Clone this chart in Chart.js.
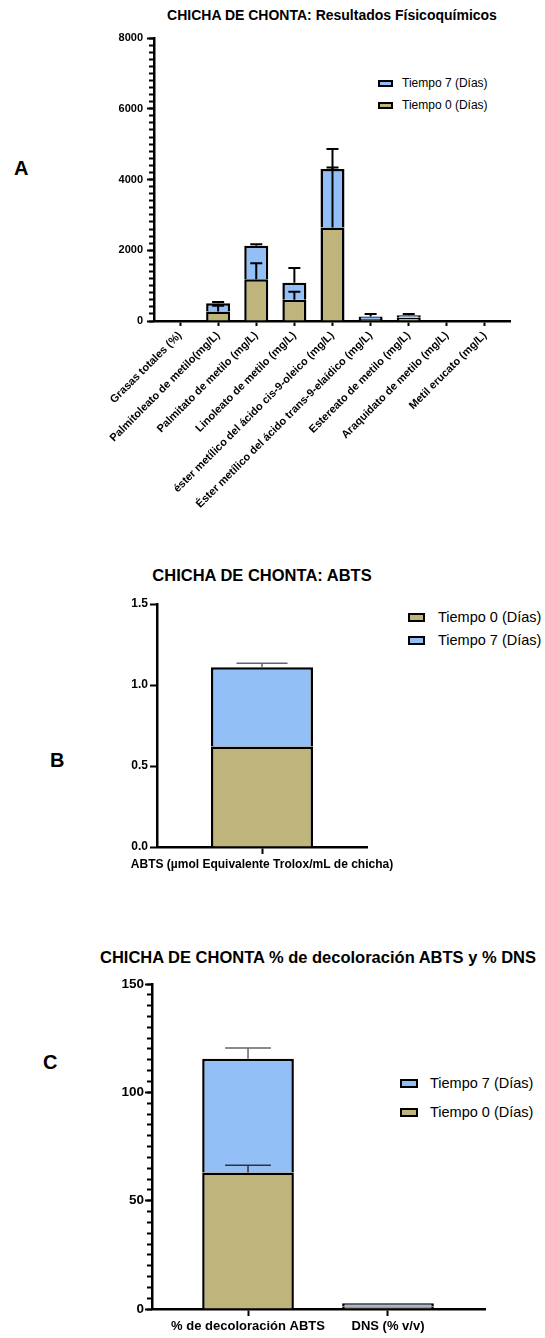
<!DOCTYPE html>
<html>
<head>
<meta charset="utf-8">
<script src="https://cdn.jsdelivr.net/npm/chart.js@4.4.0/dist/chart.umd.min.js"></script>
<style>
  body { margin: 0; background: #fff; width: 545px; height: 1338px; position: relative; overflow: hidden;
         font-family: "Liberation Sans", Arial, sans-serif; color: #000; }
  canvas { position: absolute; left: 0; }
  .t { position: absolute; white-space: nowrap; }
  .letter { font-weight: bold; font-size: 20px; line-height: 20px; }
  .title { font-weight: bold; transform: translateX(-50%); }
  .leg { position: absolute; display: flex; align-items: center; white-space: nowrap; }
  .leg span.box { display: inline-block; border: 2px solid #000; box-sizing: border-box; }
</style>
</head>
<body>

<div class="t letter" style="left:14px;top:158px">A</div>
<div class="t letter" style="left:50px;top:750px">B</div>
<div class="t letter" style="left:43px;top:1052px">C</div>

<div class="t title" style="left:332px;top:5px;font-size:14px;line-height:20px">CHICHA DE CHONTA: Resultados Físicoquímicos</div>
<div class="t title" style="left:262px;top:565px;font-size:16.5px;line-height:20px">CHICHA DE CHONTA: ABTS</div>
<div class="t title" style="left:318px;top:947px;font-size:16.5px;line-height:20px">CHICHA DE CHONTA % de decoloración ABTS y % DNS</div>

<!-- leyendas -->
<div class="leg" style="left:378px;top:75px;font-size:12px;line-height:16px"><span class="box" style="width:15px;height:7px;background:#93BFF7;margin-right:9px"></span>Tiempo 7 (Días)</div>
<div class="leg" style="left:378px;top:97px;font-size:12px;line-height:16px"><span class="box" style="width:15px;height:7px;background:#BFB47C;margin-right:9px"></span>Tiempo 0 (Días)</div>

<div class="leg" style="left:408px;top:608px;font-size:14.5px;line-height:18px"><span class="box" style="width:17px;height:9px;background:#BFB47C;margin-right:13px"></span>Tiempo 0 (Días)</div>
<div class="leg" style="left:408px;top:631px;font-size:14.5px;line-height:18px"><span class="box" style="width:17px;height:9px;background:#93BFF7;margin-right:13px"></span>Tiempo 7 (Días)</div>

<div class="leg" style="left:400px;top:1074px;font-size:14.5px;line-height:18px"><span class="box" style="width:18px;height:9px;background:#93BFF7;margin-right:12px"></span>Tiempo 7 (Días)</div>
<div class="leg" style="left:400px;top:1103px;font-size:14.5px;line-height:18px"><span class="box" style="width:18px;height:9px;background:#BFB47C;margin-right:12px"></span>Tiempo 0 (Días)</div>

<canvas id="chartA" width="545" height="520" style="top:0"></canvas>
<canvas id="chartB" width="545" height="330" style="top:560px"></canvas>
<canvas id="chartC" width="545" height="398" style="top:940px"></canvas>

<script>
// --- Données ---
// A : résultats physicochimiques
const labelsA = [
  'Grasas totales (%)',
  'Palmitoleato de metilo(mg/L)',
  'Palmitato de metilo (mg/L)',
  'Linoleato de metilo (mg/L)',
  'éster metílico del ácido cis-9-oleico (mg/L)',
  'Éster metílico del ácido trans-9-elaídico (mg/L)',
  'Estereato de metilo (mg/L)',
  'Araquidato de metilo (mg/L)',
  'Metil erucato (mg/L)'
];
const t0A = [0, 270, 1180, 600, 2640, 60, 90, 0, 0];
const t7A = [0, 230, 950, 480, 1660, 70, 70, 0, 0];
const sdT0A = [0, 160, 450, 230, 1700, 0, 0, 0, 0];
const sdT7A = [0, 40, 40, 420, 560, 70, 40, 0, 0];

// B : ABTS
const labelsB = ['ABTS (µmol Equivalente Trolox/mL de chicha)'];
const t0B = [0.62];
const t7B = [0.49];
const sdT0B = [0];
const sdT7B = [0.025];

// C : % décoloration ABTS et % DNS
const labelsC = ['% de decoloración ABTS', 'DNS (% v/v)'];
const t0C = [63, 1.2];
const t7C = [52.5, 1.5];
const sdT0C = [3.3, 0];
const sdT7C = [5, 0];

const colorT0 = '#BFB47C';
const colorT7 = '#93BFF7';

Chart.defaults.font.family = '"Liberation Sans", Arial, sans-serif';
Chart.defaults.color = '#000';

// barres d'erreur (vers le haut seulement, comme GraphPad)
const errorBars = {
  id: 'errorBars',
  afterDatasetsDraw(chart, args, opts) {
    const ctx = chart.ctx;
    const y = chart.scales.y;
    chart.data.datasets.forEach((ds, d) => {
      if (!ds.errors) return;
      const meta = chart.getDatasetMeta(d);
      meta.data.forEach((bar, i) => {
        const err = ds.errors[i];
        if (!err) return;
        const len = y.getPixelForValue(0) - y.getPixelForValue(err);
        const top = bar.y - len;
        const half = bar.width * opts.capRatio / 2;
        ctx.save();
        ctx.strokeStyle = ds.errorColor || '#000';
        ctx.lineWidth = ds.errorWidth || 2;
        ctx.beginPath();
        ctx.moveTo(bar.x, bar.y);
        ctx.lineTo(bar.x, top);
        ctx.moveTo(bar.x - half, top);
        ctx.lineTo(bar.x + half, top);
        ctx.stroke();
        ctx.restore();
      });
    });
  }
};

function axisX(labels, min, max, font, rotation, tickLen, pad, height) {
  return {
    type: 'linear',
    stacked: true,
    offset: false,
    min: min,
    max: max,
    afterBuildTicks: s => { s.ticks = labels.map((l, i) => ({ value: i })); },
    afterFit: s => { s.height = height; },
    grid: { offset: false, drawOnChartArea: false, drawTicks: true, tickLength: tickLen, tickWidth: 2, tickColor: '#000' },
    border: { color: '#000', width: 2.5 },
    ticks: {
      autoSkip: false,
      minRotation: rotation,
      maxRotation: rotation,
      padding: pad,
      font: font,
      callback: v => labels[v]
    }
  };
}

function axisY(max, step, font, pad, width, fmt) {
  return {
    stacked: true,
    weight: 1,
    min: 0,
    max: max,
    afterFit: s => { s.width = width; },
    grid: { drawOnChartArea: false, drawTicks: true, tickLength: 7, tickWidth: 2, tickColor: '#000' },
    border: { color: '#000', width: 2.5 },
    ticks: { stepSize: step, padding: pad, font: font, callback: fmt || (v => v) }
  };
}

// axe secondaire sans texte, seulement pour les petites graduations
function axisMinor(max, step) {
  return {
    position: 'left',
    weight: 0,
    min: 0,
    max: max,
    afterFit: s => { s.width = 0; },
    grid: { drawOnChartArea: false, drawTicks: true, tickLength: 5, tickWidth: 2, tickColor: '#000' },
    border: { display: false },
    ticks: { stepSize: step, display: false, autoSkip: false }
  };
}

function datasets(t0, t7, sd0, sd7, usePoints, err0, err7, errW, barPct) {
  const pts = arr => usePoints ? arr.map((v, i) => ({ x: i, y: v })) : arr;
  return [
    {
      label: 'Tiempo 0 (Días)', data: pts(t0), errors: sd0,
      backgroundColor: colorT0, borderColor: '#000', borderWidth: 2.5,
      categoryPercentage: 1, barPercentage: barPct,
      errorColor: err0, errorWidth: errW
    },
    {
      label: 'Tiempo 7 (Días)', data: pts(t7), errors: sd7,
      backgroundColor: colorT7, borderColor: '#000', borderWidth: 2.5,
      categoryPercentage: 1, barPercentage: barPct,
      errorColor: err7, errorWidth: errW
    }
  ];
}

const common = {
  responsive: false,
  animation: false,
  plugins: { legend: { display: false }, tooltip: { enabled: false } }
};

// --- Graphique A ---
new Chart(document.getElementById('chartA'), {
  type: 'bar',
  data: { datasets: datasets(t0A, t7A, sdT0A, sdT7A, true, '#000', '#000', 2, 0.63) },
  options: {
    ...common,
    layout: { padding: { left: 0, right: 35, top: 38, bottom: 0 } },
    plugins: { ...common.plugins, errorBars: { capRatio: 0.5 } },
    scales: {
      x: axisX(labelsA, -0.682, 8.656, { size: 11, weight: 'bold' }, 45, 5, 3, 199),
      y: axisY(8000, 2000, { size: 11, weight: 'bold' }, 4, 154),
      yMinor: axisMinor(8000, 200)
    }
  },
  plugins: [errorBars]
});

// --- Graphique B ---
new Chart(document.getElementById('chartB'), {
  type: 'bar',
  data: { labels: labelsB, datasets: datasets(t0B, t7B, sdT0B, sdT7B, false, '#333', '#666', 1.5, 0.486) },
  options: {
    ...common,
    layout: { padding: { left: 0, right: 178, top: 44, bottom: 0 } },
    plugins: { ...common.plugins, errorBars: { capRatio: 0.5 } },
    scales: {
      x: {
        stacked: true,
        afterFit: s => { s.height = 43; },
        grid: { offset: false, drawOnChartArea: false, drawTicks: true, tickLength: 7, tickWidth: 2, tickColor: '#000' },
        border: { color: '#000', width: 2.5 },
        ticks: { padding: 3, maxRotation: 0, font: { size: 12, weight: 'bold' } }
      },
      y: axisY(1.5, 0.5, { size: 12, weight: 'bold' }, 2, 157, v => v.toFixed(1))
    }
  },
  plugins: [errorBars]
});

// --- Graphique C ---
new Chart(document.getElementById('chartC'), {
  type: 'bar',
  data: { datasets: datasets(t0C, t7C, sdT0C, sdT7C, true, '#333', '#666', 1.5, 0.655) },
  options: {
    ...common,
    layout: { padding: { left: 0, right: 60, top: 44, bottom: 0 } },
    plugins: { ...common.plugins, errorBars: { capRatio: 0.5 } },
    scales: {
      x: axisX(labelsC, -0.686, 1.693, { size: 13, weight: 'bold' }, 0, 7, 3, 29),
      y: axisY(150, 50, { size: 13.5, weight: 'bold' }, 1, 152),
      yMinor: axisMinor(150, 5)
    }
  },
  plugins: [errorBars]
});
</script>
</body>
</html>
